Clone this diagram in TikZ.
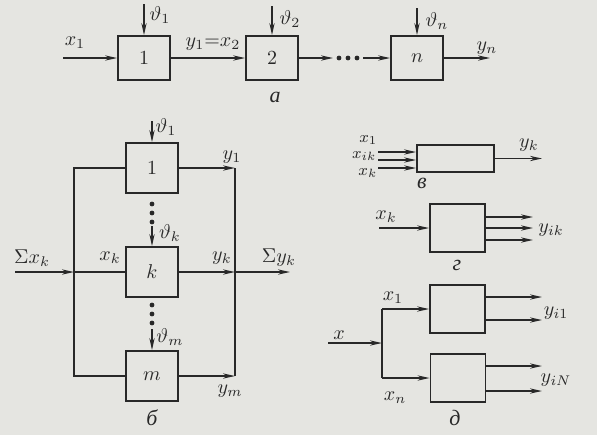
\documentclass[tikz,border=0pt]{standalone}
\usepackage{fontspec}
\newfontfamily\cyrfont{Liberation Serif}
\usetikzlibrary{arrows.meta}
\definecolor{paper}{RGB}{229,229,225}
\definecolor{ink}{RGB}{40,40,40}

\begin{document}
\begin{tikzpicture}[
  x=0.5pt, y=-0.5pt,
  font=\fontsize{10}{12}\selectfont,
  color=ink, line width=.8pt,
  blk/.style={draw, line width=.9pt, inner sep=0pt},
  ablk/.style={blk, minimum width=26pt, minimum height=22pt},
  bblk/.style={blk, minimum width=26pt, minimum height=25pt},
  sblk/.style={blk, minimum width=27.5pt, minimum height=24pt},
  arr/.style={-{Stealth[length=6pt,width=2.6pt]}},
  lbl/.style={inner sep=0pt},
  smlbl/.style={lbl, anchor=east, font=\fontsize{8}{9}\selectfont},
  sublbl/.style={inner sep=0pt, font=\cyrfont\itshape\fontsize{11}{12}\selectfont}
]
\fill[paper] (0,0) rectangle (597,435);
\useasboundingbox (0,0) rectangle (597,435);

% a: chain of blocks
\node[ablk] (a1) at (144,58) {$1$};
\node[ablk] (a2) at (272,58) {$2$};
\node[ablk] (an) at (417,58) {$n$};
\coordinate (ain) at (63,58);
\coordinate (adot1) at (333,58);
\coordinate (adot2) at (363,58);
\coordinate (aout) at (490,58);
\coordinate (ta1) at (144,4);
\coordinate (ta2) at (272,6);
\coordinate (tan) at (417,8);
\draw[arr] (ain) -- (a1.west);
\draw[arr] (a1.east) -- (a2.west);
\draw[arr] (a2.east) -- (adot1);
\foreach \x in {339,348,357}
  \fill (\x,58) circle (1.2pt);
\draw[arr] (adot2) -- (an.west);
\draw[arr] (an.east) -- (aout);
\foreach \t/\n in {ta1/a1, ta2/a2, tan/an}
  \draw[arr] (\t) -- (\n.north);
\node[lbl] (lax) at (75,43) {$x_1$};
\node[lbl] (lat1) at (160,15) {$\vartheta_1$};
\node[lbl] (lay1) at (213,44) {$y_1{=}x_2$};
\node[lbl] (lat2) at (290,19) {$\vartheta_2$};
\node[lbl] (latn) at (437,21) {$\vartheta_n$};
\node[lbl] (layn) at (487,48) {$y_n$};
\node[sublbl] (capa) at (275,97) {а};

% b: parallel blocks between two buses
\node[bblk] (b1) at (152,168) {$1$};
\node[bblk] (bk) at (152,272) {$k$};
\node[bblk] (bm) at (152,376) {$m$};
\coordinate (bl1) at (74,168);
\coordinate (blk) at (74,272);
\coordinate (blm) at (74,376);
\coordinate (br1) at (235,168);
\coordinate (brk) at (235,272);
\coordinate (brm) at (235,376);
\coordinate (bin) at (15,272);
\coordinate (bout) at (290,272);
\draw (b1.west) -- (bl1) -- (blm) -- (bm.west);
\draw (blk) -- (bk.west);
\draw[arr] (bin) -- (blk);
\foreach \n/\r in {b1/br1, bk/brk, bm/brm}
  \draw[arr] (\n.east) -- (\r);
\draw (br1) -- (brm);
\draw[arr] (brk) -- (bout);
\coordinate (tb1) at (152,121);
\coordinate (tbk) at (152,226);
\coordinate (tbm) at (152,329);
\foreach \t/\n in {tb1/b1, tbk/bk, tbm/bm}
  \draw[arr] (\t) -- (\n.north);
\foreach \y in {204,213,222,305,314,323}
  \fill (152,\y) circle (1.2pt);
\node[lbl] (lbt1) at (166,127) {$\vartheta_1$};
\node[lbl] (lbtk) at (170,233) {$\vartheta_k$};
\node[lbl] (lbtm) at (170,337) {$\vartheta_m$};
\node[lbl] (lby1) at (232,157) {$y_1$};
\node[lbl] (lbsx) at (32,258) {$\Sigma x_k$};
\node[lbl] (lbxk) at (110,258) {$x_k$};
\node[lbl] (lbyk) at (222,258) {$y_k$};
\node[lbl] (lbsy) at (279,258) {$\Sigma y_k$};
\node[lbl] (lbym) at (230,391) {$y_m$};
\node[sublbl] (capb) at (152,418) {б};

% v: several inputs, one output
\node[blk, minimum width=38.5pt, minimum height=13.5pt] (v) at (455.5,158.5) {};
\foreach \i/\y in {1/152, 2/160, 3/168} {
  \coordinate (vi\i) at (378,\y);
  \draw[arr] (vi\i) -- (vi\i -| v.west);
}
\coordinate (vout) at (542,158.5);
\draw[arr] (v.east) -- (vout);
\node[smlbl] (lvx1) at (378,140) {$x_1$};
\node[smlbl] (lvxi) at (377,156) {$x_{ik}$};
\node[smlbl] (lvxk) at (378,173) {$x_k$};
\node[lbl] (lvyk) at (529,145) {$y_k$};
\node[sublbl] (capv) at (422,183) {в};

% g: one input, several outputs
\node[sblk] (g) at (457.5,228) {};
\coordinate (gin) at (379,228);
\draw[arr] (gin) -- (g.west);
\foreach \i/\y in {1/217, 2/228, 3/240} {
  \coordinate (go\i) at (533,\y);
  \draw[arr] (go\i -| g.east) -- (go\i);
}
\node[lbl] (lgxk) at (386,217) {$x_k$};
\node[lbl] (lgyi) at (551,230) {$y_{ik}$};
\node[sublbl] (capg) at (457,265) {г};

% d: branching input, two blocks
\node[sblk] (d1) at (457.5,309) {};
\node[sblk] (d2) at (458,378) {};
\coordinate (din) at (328,343);
\coordinate (dj) at (382,343);
\coordinate (dj1) at (382,309);
\coordinate (dj2) at (382,378);
\draw[arr] (din) -- (dj);
\draw (dj1) -- (dj2);
\draw[arr] (dj1) -- (d1.west);
\draw[arr] (dj2) -- (d2.west);
\foreach \i/\y in {1/297, 2/320, 3/366, 4/391}
  \coordinate (do\i) at (542,\y);
\foreach \i in {1,2}
  \draw[arr] (do\i -| d1.east) -- (do\i);
\foreach \i in {3,4}
  \draw[arr] (do\i -| d2.east) -- (do\i);
\node[lbl] (ldx) at (339,335) {$x$};
\node[lbl] (ldx1) at (393,298) {$x_1$};
\node[lbl] (ldxn) at (395,398) {$x_n$};
\node[lbl] (ldy1) at (556,313) {$y_{i1}$};
\node[lbl] (ldyn) at (556,380) {$y_{iN}$};
\node[sublbl] (capd) at (455,418) {д};
\end{tikzpicture}
\end{document}
